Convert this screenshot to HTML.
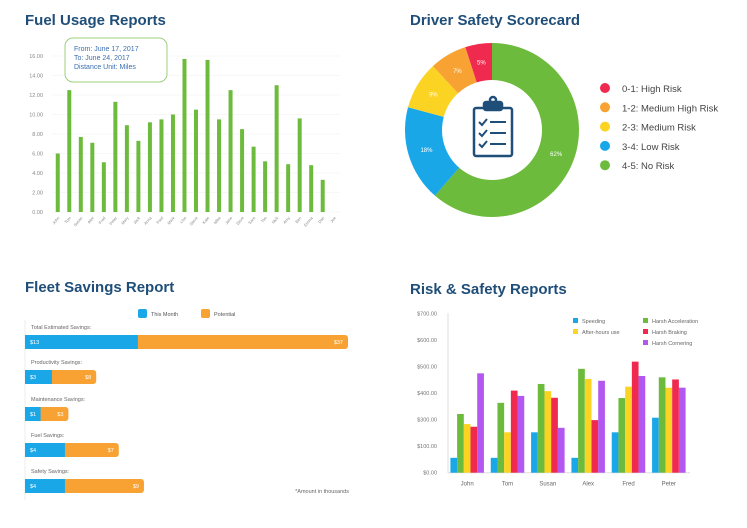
<!DOCTYPE html>
<html><head><meta charset="utf-8">
<style>
body{margin:0;width:747px;height:528px;background:#fff;font-family:"Liberation Sans",sans-serif;overflow:hidden}
svg{position:absolute;left:0;top:0}
.t{font-weight:bold;font-size:15px;fill:#1f4e79}
.ax{font-size:5.5px;fill:#888}
</style></head><body>
<svg id="s" width="747" height="528">
<text class="t" x="25" y="25">Fuel Usage Reports</text>
<text class="t" x="410" y="25">Driver Safety Scorecard</text>
<text class="t" x="25" y="292">Fleet Savings Report</text>
<text class="t" x="410" y="294">Risk &amp; Safety Reports</text>
<g id="fuel"></g><g id="donut"></g><g id="fleet"></g><g id="risk"></g>
</svg>
<script>
// ---------- Fuel data ----------
const fuelCats=["John","Tom","Susan","Alex","Fred","Peter","Mary","Jack","Anna","Paul","Mark","Lisa","Steve","Kate","Mike","Jane","Dave","Sara","Tim","Nick","Amy","Ben","Emma","Dan","Joe"];
const fuelVals=[6.0,12.5,7.7,7.1,5.1,11.3,8.9,7.3,9.2,9.5,10.0,15.7,10.5,15.6,9.5,12.5,8.5,6.7,5.2,13.0,4.9,9.6,4.8,3.3,0];
const fuelTicks=["0.00","2.00","4.00","6.00","8.00","10.00","12.00","14.00","16.00"];
// ---------- Donut data ----------
const donutLabels=["4-5: No Risk","3-4: Low Risk","2-3: Medium Risk","1-2: Medium High Risk","0-1: High Risk"];
const donutVals=[62,18,9,7,5];
const donutPct=["62%","18%","9%","7%","5%"];
// ---------- Fleet data ----------
const fleetCats=["Total Estimated Savings:","Productivity Savings:","Maintenance Savings:","Fuel Savings:","Safety Savings:"];
const fleetMonth=[13,3.1,1.8,4.6,4.6];
const fleetPotential=[24.2,5.1,3.2,6.2,9.1];
const fleetMonthLbl=["$13","$3","$1","$4","$4"];
const fleetPotLbl=["$37","$8","$3","$7","$9"];
// ---------- Risk data ----------
const riskCats=["John","Tom","Susan","Alex","Fred","Peter"];
const riskSeries=["Speeding","After-hours use","Harsh Acceleration","Harsh Braking","Harsh Cornering"];
const speeding=[56,56,152,56,152,207];
const afterHours=[183,152,307,353,324,320];
const harshAccel=[221,263,334,391,281,359];
const harshBraking=[173,309,282,198,418,351];
const harshCornering=[374,289,169,346,364,320];
const riskTicks=["$0.00","$100.00","$300.00","$400.00","$500.00","$600.00","$700.00"];

const NS="http://www.w3.org/2000/svg";
function mk(p,tag,a,txt){const e=document.createElementNS(NS,tag);for(const k in a)e.setAttribute(k,a[k]);if(txt!==undefined)e.textContent=txt;p.appendChild(e);return e;}

// Fuel chart
(function(){
const g=document.getElementById('fuel');
const x0=52,x1=340,y0=212,y1=56,max=16;
const y=v=>y0-(v/max)*(y0-y1);
const step=(x1-x0)/fuelCats.length;
const x=i=>x0+step*(i+0.5);
fuelTicks.forEach((t,i)=>{const v=parseFloat(t);
 const l=mk(g,'line',{x1:x0,x2:x1,y1:y(v),y2:y(v),stroke:'#f0f0f0','stroke-width':0.6});
 
 const tx=mk(g,'text',{x:x0-9,y:y(v)+2,'text-anchor':'end',class:'ax'},t);
 });
fuelCats.forEach((c,i)=>{
 const r=mk(g,'rect',{x:x(i)-2,y:y(fuelVals[i]),width:4,height:y0-y(fuelVals[i]),fill:'#6dbb3c'});
 
 const t=mk(g,'text',{x:x(i)+2,y:y0+6,'text-anchor':'end',class:'ax',transform:`rotate(-50 ${x(i)+2} ${y0+6})`,style:'font-size:4px'},c);
 });
const b=mk(g,'rect',{x:65,y:38,width:102,height:44,rx:8,fill:'#fff',stroke:'#9ccf7a','stroke-width':1});

["From: June 17, 2017","To: June 24, 2017","Distance Unit: Miles"].forEach((s,i)=>{
 const t=mk(g,'text',{x:74,y:51+i*9,style:'font-size:7px;fill:#3a6fb0'},s);
 });
})();

// Donut
(function(){
const g=document.getElementById('donut');
const cx=492,cy=130,R=87,r=50,cols=['#6dbb3c','#1aa7e8','#fbd323','#f7a233','#f0294f'];
const tot=donutVals.reduce((a,b)=>a+b,0);let a=0;
donutVals.forEach((v,i)=>{const a0=a,a1=a+v/tot*2*Math.PI;a=a1;
 const p=(ang,rad)=>[cx+rad*Math.sin(ang),cy-rad*Math.cos(ang)];
 const [x0,y0]=p(a0,R),[x1,y1]=p(a1,R),[x2,y2]=p(a1,r),[x3,y3]=p(a0,r);const lg=(a1-a0)>Math.PI?1:0;
 const s=mk(g,'path',{d:`M${x0},${y0}A${R},${R} 0 ${lg} 1 ${x1},${y1}L${x2},${y2}A${r},${r} 0 ${lg} 0 ${x3},${y3}Z`,fill:cols[i]});
 
 const [lx,ly]=p((a0+a1)/2,(R+r)/2);
 const t=mk(g,'text',{x:lx,y:ly+2,'text-anchor':'middle',style:'font-size:6px;fill:#fff'},donutPct[i]);
 
 const li=4-i;
 const d=mk(g,'circle',{cx:605,cy:88+li*19.3,r:5,fill:cols[i]});
 
 const lt=mk(g,'text',{x:622,y:92+li*19.3,style:'font-size:9.5px;fill:#444'},donutLabels[i]);
 });
const ic=mk(g,'g',{fill:'none',stroke:'#1f4e79','stroke-width':2.5});

mk(ic,'rect',{x:474,y:108,width:38,height:48,rx:2});
mk(ic,'rect',{x:484,y:102,width:18,height:8,rx:2,fill:'#1f4e79'});
mk(ic,'circle',{cx:493,cy:100,r:3});
[0,1,2].forEach(k=>{mk(ic,'path',{d:`M479 ${122+k*11}l3 3l5 -6`,'stroke-width':2});mk(ic,'line',{x1:490,x2:506,y1:122+k*11,y2:122+k*11,'stroke-width':2});});
})();

// Fleet
(function(){
const g=document.getElementById('fleet');
const x0=25,sc=323/37.2,rows=[335,370,407,443,479];
const l=mk(g,'line',{x1:x0,x2:x0,y1:320,y2:500,stroke:'#eee'});
[['#1aa7e8','This Month',138],['#f7a233','Potential',201]].forEach(([c,s,xx])=>{
 const q=mk(g,'rect',{x:xx,y:309,width:9,height:9,rx:2,fill:c});
 const t=mk(g,'text',{x:xx+13,y:316,style:'font-size:5.5px;fill:#555'},s);});
fleetCats.forEach((c,i)=>{const y=rows[i],wm=fleetMonth[i]*sc,wp=fleetPotential[i]*sc;
 const t=mk(g,'text',{x:31,y:y-6,style:'font-size:5.5px;fill:#666'},c);
 const o=mk(g,'rect',{x:x0,y:y,width:wm+wp,height:14,rx:3,fill:'#f7a233'});
 const b=mk(g,'rect',{x:x0,y:y,width:wm,height:14,fill:'#1aa7e8'});
 const t1=mk(g,'text',{x:x0+5,y:y+9,style:'font-size:5.5px;fill:#fff'},fleetMonthLbl[i]);
 const t2=mk(g,'text',{x:x0+wm+wp-5,y:y+9,'text-anchor':'end',style:'font-size:5.5px;fill:#fff'},fleetPotLbl[i]);});
const f=mk(g,'text',{x:349,y:493,'text-anchor':'end',style:'font-size:5.5px;fill:#666'},'*Amount in thousands');
})();

// Risk
(function(){
const g=document.getElementById('risk');
const x0=448,x1=690,y0=472.7,y1=313.3,max=600,bw=6.7;
const y=v=>y0-v/max*(y0-y1);
const series=[speeding,harshAccel,afterHours,harshBraking,harshCornering];
const cols=['#1aa7e8','#6dbb3c','#fbd323','#f0294f','#b257f0'];
riskTicks.forEach((t,i)=>{const tx=mk(g,'text',{x:437,y:y(i*100)+2,'text-anchor':'end',style:'font-size:5.5px;fill:#777'},t);});
const a=mk(g,'line',{x1:x0,x2:x0,y1:y1,y2:y0,stroke:'#ddd'});
const a2=mk(g,'line',{x1:x0,x2:x1,y1:y0,y2:y0,stroke:'#ddd'});
const gw=(x1-x0)/riskCats.length;
riskCats.forEach((c,i)=>{const cx=x0+gw*(i+0.5)-1;
 series.forEach((s,k)=>{const r=mk(g,'rect',{x:cx-2.5*bw+k*bw,y:y(s[i]),width:bw,height:y0-y(s[i]),fill:cols[k]});
  });
 const t=mk(g,'text',{x:cx,y:y0+13,'text-anchor':'middle',style:'font-size:6px;fill:#666'},c);});
const leg=[[0,573,322],[1,573,333],[2,643,322],[3,643,333],[4,643,344]];
const lc=['#1aa7e8','#fbd323','#6dbb3c','#f0294f','#b257f0'];
leg.forEach(([k,xx,yy])=>{const q=mk(g,'rect',{x:xx,y:yy-4,width:5,height:5,fill:lc[k]});
 const t=mk(g,'text',{x:xx+9,y:yy+1,style:'font-size:5.5px;fill:#666'},riskSeries[k]);});
})();
</script>
</body></html>
